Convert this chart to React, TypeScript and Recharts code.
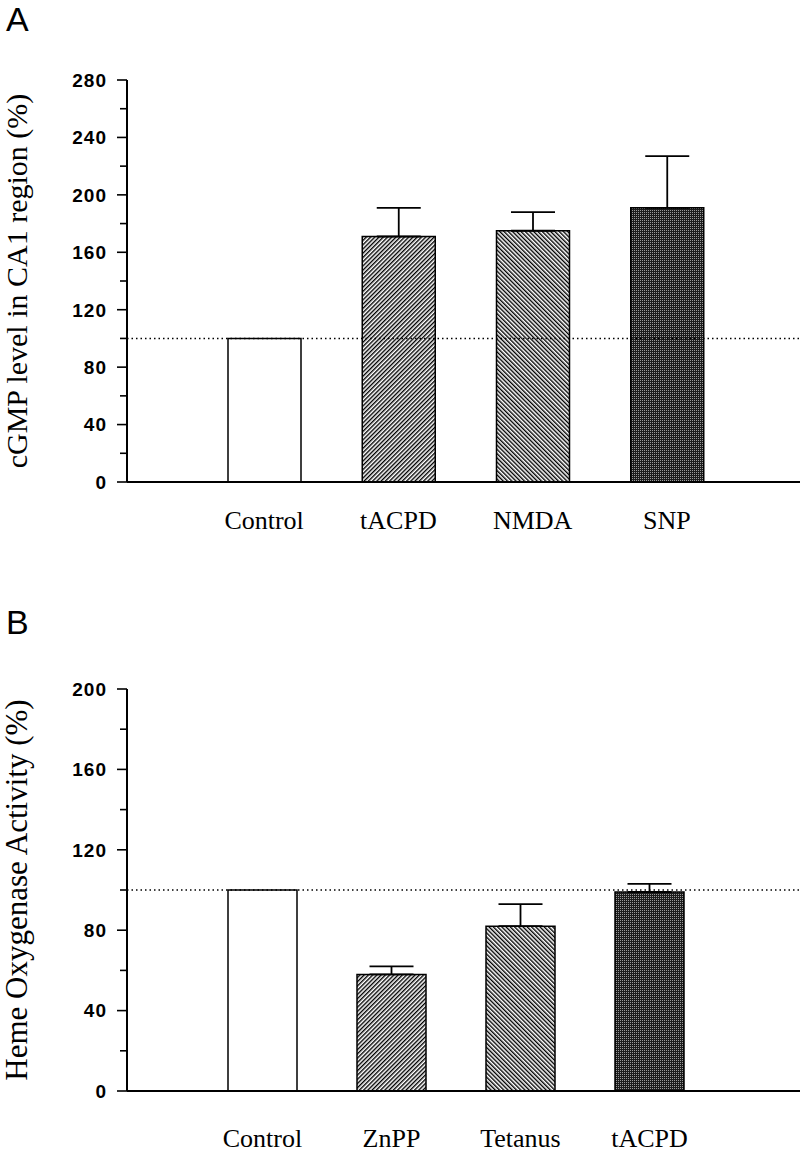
import React from "react";
import { BarChart, Bar, XAxis, YAxis, ErrorBar, ReferenceLine, Cell, Label } from "recharts";

// Panel A: cGMP level in CA1 region
const groupsA = ["Control", "tACPD", "NMDA", "SNP"];
const meansA = [100, 171, 175, 191];
const errorsA = [0, 20, 13, 36];
const ticksA = [0, 20, 40, 60, 80, 100, 120, 140, 160, 180, 200, 220, 240, 260, 280];

// Panel B: heme oxygenase activity
const groupsB = ["Control", "ZnPP", "Tetanus", "tACPD"];
const meansB = [100, 58, 82, 99];
const errorsB = [0, 4, 11, 4];
const ticksB = [0, 20, 40, 60, 80, 100, 120, 140, 160, 180, 200];

const fills = ["#ffffff", "url(#hatchUp)", "url(#hatchDown)", "url(#stipple)"];

const serif = "'Liberation Serif', 'Times New Roman', serif";
const sans = "'Liberation Sans', Arial, sans-serif";

const toRows = (names: string[], means: number[], errs: number[]) =>
  names.map((name, i) => ({ name, value: means[i], err: errs[i] > 0 ? [0, errs[i]] : null }));

function YTick(props: any) {
  const { x, y, payload } = props;
  const major = payload.value % 40 === 0;
  return (
    <g>
      <line x1={x - (major ? 10 : 7)} x2={x} y1={y} y2={y} stroke="#000" strokeWidth={1.6} />
      {major && (
        <text x={x - 20} y={y} dy="0.36em" textAnchor="end" fontFamily={sans} fontSize={19} fontWeight={700} letterSpacing={1} fill="#000">
          {payload.value}
        </text>
      )}
    </g>
  );
}

function YTitle({ text, size }: { text: string; size: number }) {
  return (props: any) => {
    const vb = props.viewBox;
    const cx = 16;
    const cy = vb.y + vb.height / 2;
    return (
      <text x={cx} y={cy} transform={`rotate(-90 ${cx} ${cy})`} textAnchor="middle" dominantBaseline="central" fontFamily={serif} fontSize={size} fill="#000">
        {text}
      </text>
    );
  };
}

type PanelProps = {
  rows: any[];
  ticks: number[];
  max: number;
  title: string;
  titleSize: number;
  top: number;
  height: number;
  marginTop: number;
  xHeight: number;
  padding: { left: number; right: number };
  barSize: number;
  tickMargin: number;
};

function Panel(p: PanelProps) {
  return (
    <div style={{ position: "absolute", left: 0, top: p.top }}>
      <BarChart width={800} height={p.height} data={p.rows} margin={{ top: p.marginTop, right: 0, bottom: 0, left: 0 }}>
        <XAxis
          dataKey="name"
          padding={p.padding}
          axisLine={{ stroke: "#000", strokeWidth: 2 }}
          tickLine={false}
          tickSize={0}
          tickMargin={p.tickMargin}
          height={p.xHeight}
          tick={{ fontFamily: serif, fontSize: 26, fill: "#000" }}
        />
        <YAxis
          width={127}
          domain={[0, p.max]}
          ticks={p.ticks}
          interval={0}
          axisLine={{ stroke: "#000", strokeWidth: 2 }}
          tickLine={false}
          tickSize={0}
          tickMargin={0}
          tick={<YTick />}
        >
          <Label content={YTitle({ text: p.title, size: p.titleSize })} />
        </YAxis>
        <Bar dataKey="value" barSize={p.barSize} stroke="#000" strokeWidth={1.5} isAnimationActive={false}>
          {p.rows.map((_, i) => (
            <Cell key={i} fill={fills[i]} />
          ))}
          <ErrorBar dataKey="err" width={22} stroke="#000" strokeWidth={1.8} direction="y" />
        </Bar>
        <ReferenceLine y={100} stroke="#000" strokeWidth={1.4} strokeDasharray="1.5 3" />
      </BarChart>
    </div>
  );
}

export default function App() {
  const rowsA = toRows(groupsA, meansA, errorsA);
  const rowsB = toRows(groupsB, meansB, errorsB);
  return (
    <div style={{ position: "absolute", left: 0, top: 0, width: 800, height: 1165, background: "#fff" }}>
      <svg width={0} height={0} style={{ position: "absolute" }}>
        <defs>
          <pattern id="hatchUp" patternUnits="userSpaceOnUse" width={3} height={3} patternTransform="rotate(45)">
            <rect width={3} height={3} fill="#fff" />
            <line x1={0.7} y1={0} x2={0.7} y2={3} stroke="#000" strokeWidth={1.4} />
          </pattern>
          <pattern id="hatchDown" patternUnits="userSpaceOnUse" width={3} height={3} patternTransform="rotate(-45)">
            <rect width={3} height={3} fill="#fff" />
            <line x1={0.7} y1={0} x2={0.7} y2={3} stroke="#000" strokeWidth={1.4} />
          </pattern>
          <pattern id="stipple" patternUnits="userSpaceOnUse" width={2} height={2}>
            <rect width={2} height={2} fill="#1c1c1c" />
            <rect x={0} y={0} width={1} height={1} fill="#9a9a9a" />
          </pattern>
        </defs>
      </svg>
      <div style={{ position: "absolute", left: 6, top: 0, fontFamily: sans, fontSize: 34 }}>A</div>
      <div style={{ position: "absolute", left: 6, top: 603, fontFamily: sans, fontSize: 34 }}>B</div>
      <Panel
        rows={rowsA}
        ticks={ticksA}
        max={280}
        title="cGMP level in CA1 region (%)"
        titleSize={30}
        top={0}
        height={560}
        marginTop={80}
        xHeight={78}
        padding={{ left: 70, right: 66 }}
        barSize={73}
        tickMargin={29}
      />
      <Panel
        rows={rowsB}
        ticks={ticksB}
        max={200}
        title="Heme Oxygenase Activity (%)"
        titleSize={31}
        top={600}
        height={565}
        marginTop={89}
        xHeight={74}
        padding={{ left: 71, right: 86 }}
        barSize={69}
        tickMargin={38}
      />
    </div>
  );
}
